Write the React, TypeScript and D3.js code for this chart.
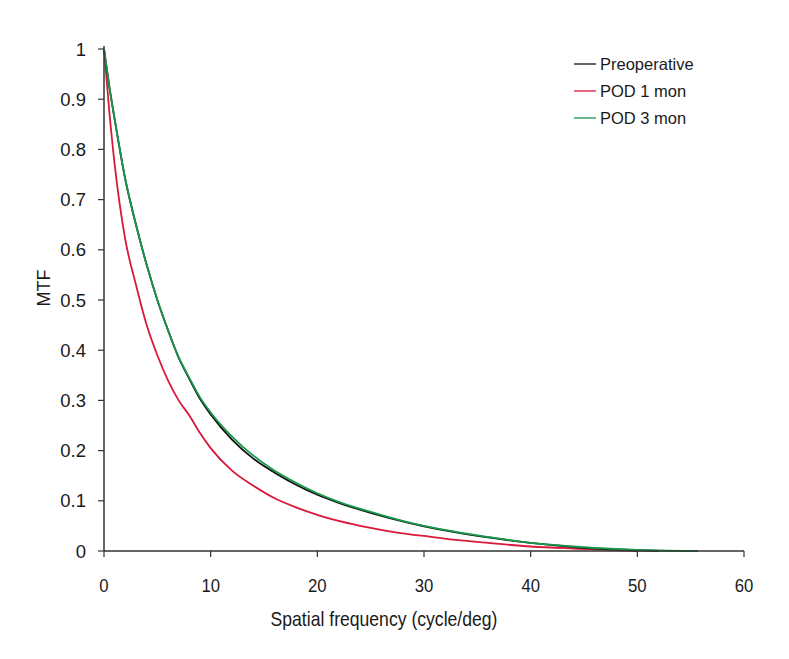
import React from "react";
import * as d3 from "d3";

const freqPre = [0, 0.5, 1, 2, 3, 4, 5, 6, 7, 8, 9, 10, 12, 14, 16, 18, 20, 22, 25, 28, 30, 33, 36, 40, 44, 48, 52];
const mtfPre = [1.0, 0.925, 0.86, 0.74, 0.65, 0.57, 0.5, 0.44, 0.385, 0.343, 0.303, 0.272, 0.222, 0.184, 0.156, 0.132, 0.112, 0.096, 0.076, 0.059, 0.049, 0.037, 0.027, 0.016, 0.008, 0.003, 0.0];

const freqPod1 = [0, 0.5, 1, 2, 3, 4, 5, 6, 7, 8, 9, 10, 12, 14, 16, 18, 20, 22, 25, 28, 30, 33, 36, 40, 44, 48, 50];
const mtfPod1 = [1.0, 0.875, 0.77, 0.62, 0.53, 0.45, 0.39, 0.34, 0.3, 0.27, 0.235, 0.205, 0.16, 0.13, 0.105, 0.087, 0.072, 0.06, 0.046, 0.035, 0.03, 0.022, 0.016, 0.009, 0.005, 0.002, 0.0];

const freqPod3 = [0, 0.5, 1, 2, 3, 4, 5, 6, 7, 8, 9, 10, 12, 14, 16, 18, 20, 22, 25, 28, 30, 33, 36, 40, 44, 48, 52, 55.7];
const mtfPod3 = [1.0, 0.925, 0.86, 0.74, 0.65, 0.57, 0.5, 0.44, 0.386, 0.345, 0.306, 0.276, 0.228, 0.19, 0.16, 0.136, 0.115, 0.098, 0.078, 0.06, 0.05, 0.038, 0.028, 0.016, 0.009, 0.004, 0.001, 0.0];

const seriesNames = ["Preoperative", "POD 1 mon", "POD 3 mon"];
const seriesColors = ["#111111", "#d8193a", "#17984a"];
const xTicks = [0, 10, 20, 30, 40, 50, 60];
const yTicks = [0, 0.1, 0.2, 0.3, 0.4, 0.5, 0.6, 0.7, 0.8, 0.9, 1];

export default function App() {
  const W = 789, H = 659;
  const x = d3.scaleLinear().domain([0, 60]).range([104, 744]);
  const y = d3.scaleLinear().domain([0, 1]).range([551, 49]);
  const line = d3
    .line<[number, number]>()
    .x((d) => x(d[0]))
    .y((d) => y(d[1]))
    .curve(d3.curveMonotoneX);

  const series = [
    { name: seriesNames[0], color: seriesColors[0], pts: freqPre.map((f, i) => [f, mtfPre[i]] as [number, number]) },
    { name: seriesNames[1], color: seriesColors[1], pts: freqPod1.map((f, i) => [f, mtfPod1[i]] as [number, number]) },
    { name: seriesNames[2], color: seriesColors[2], pts: freqPod3.map((f, i) => [f, mtfPod3[i]] as [number, number]) },
  ];
  const drawOrder = [1, 0, 2];
  const font = "'Liberation Sans', Arial, sans-serif";
  const axisColor = "#333";
  const txt = "#1a1a1a";

  return (
    <svg width={W} height={H} style={{ position: "absolute", left: 0, top: 0, background: "#fff" }} fontFamily={font}>
      <rect x={0} y={0} width={W} height={H} fill="#fff" />
      {drawOrder.map((i) => (
        <path key={i} d={line(series[i].pts) || ""} fill="none" stroke={series[i].color} strokeWidth={1.8} />
      ))}
      {/* y axis */}
      <line x1={x(0)} x2={x(0)} y1={y(1) - 3} y2={y(0)} stroke={axisColor} strokeWidth={1.5} />
      {yTicks.map((t) => (
        <g key={t}>
          <line x1={x(0) - 6} x2={x(0)} y1={y(t)} y2={y(t)} stroke={axisColor} strokeWidth={1.2} />
          <text x={86} y={y(t)} dy="0.36em" textAnchor="end" fontSize={18.5} fill={txt}>
            {t === 0 ? "0" : t === 1 ? "1" : t.toFixed(1)}
          </text>
        </g>
      ))}
      {/* x axis */}
      <line x1={x(0)} x2={x(60)} y1={y(0)} y2={y(0)} stroke={axisColor} strokeWidth={1.5} />
      {xTicks.map((t) => (
        <g key={t}>
          <line x1={x(t)} x2={x(t)} y1={y(0)} y2={y(0) + 6} stroke={axisColor} strokeWidth={1.2} />
          <text
            transform={`translate(${x(t)},592) scale(0.88,1)`}
            textAnchor="middle"
            fontSize={19}
            fill={txt}
          >
            {t}
          </text>
        </g>
      ))}
      <text
        transform={`translate(384,626) scale(0.88,1)`}
        textAnchor="middle"
        fontSize={20}
        fill={txt}
      >
        Spatial frequency (cycle/deg)
      </text>
      <text transform={`translate(50,288) rotate(-90)`} textAnchor="middle" fontSize={18} fill={txt}>
        MTF
      </text>
      {/* legend */}
      {series.map((s, i) => (
        <g key={s.name}>
          <line x1={574} x2={596} y1={64 + i * 27} y2={64 + i * 27} stroke={s.color} strokeWidth={1.3} />
          <text x={600} y={64 + i * 27} dy="0.36em" fontSize={16.5} fill={txt}>
            {s.name}
          </text>
        </g>
      ))}
    </svg>
  );
}
